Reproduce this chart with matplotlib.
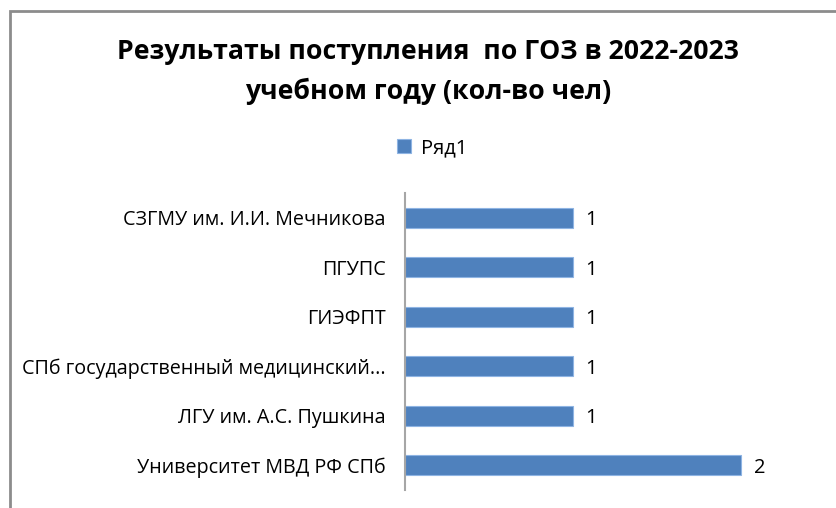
import matplotlib.pyplot as plt
from matplotlib.patches import Rectangle

# data, top to bottom as in the chart
vuz = ["СЗГМУ им. И.И. Мечникова", "ПГУПС", "ГИЭФПТ",
       "СПб государственный медицинский...", "ЛГУ им. А.С. Пушкина",
       "Университет МВД РФ СПб"]
kol = [1, 1, 1, 1, 1, 2]

plt.rcParams['font.family'] = ['Open Sans', 'DejaVu Sans']

fig = plt.figure(figsize=(8.37, 5.08), dpi=100)
# grey frame of the chart area (goes off the picture right and bottom)
fig.patches.append(Rectangle((10/837, -0.1), 1.2, 1 - 11/508 + 0.1,
                             transform=fig.transFigure, fill=False,
                             edgecolor="#8c8c8c", linewidth=2))

ax = fig.add_axes([405/837, 1 - 490/508, 420/837, 297/508])
y = list(range(len(vuz)))
bars = ax.barh(y, kol, height=0.4, color="#4F81BD", edgecolor="#8eb4e3", linewidth=0.8, label="Ряд1")
ax.set_yticks(y)
ax.set_yticklabels(vuz, fontsize=14.2)
ax.set_ylim(len(vuz) - 0.5, -0.5)
ax.set_xlim(0, 2.5)
ax.tick_params(axis="y", length=0, pad=14)
ax.set_xticks([])
for s in ["top", "right", "bottom"]:
    ax.spines[s].set_visible(False)
ax.spines["left"].set_color("#a6a6a6")
ax.spines["left"].set_linewidth(1.5)

for b, v in zip(bars, kol):
    ax.text(b.get_width() + 0.075, b.get_y() + b.get_height()/2, str(v),
            va="center_baseline", ha="left", fontsize=14.5)

fig.text(428/837, 1 - 72/508, "Результаты поступления  по ГОЗ в 2022-2023\nучебном году (кол-во чел)",
         ha="center", va="center", fontsize=19.2, fontweight="bold", linespacing=1.6)

fig.legend(loc="center", bbox_to_anchor=(432/837, 1 - 148/508), frameon=False,
           fontsize=14.5, handlelength=0.7, handleheight=0.7, handletextpad=0.5)

fig.savefig("out.png", dpi=100)
